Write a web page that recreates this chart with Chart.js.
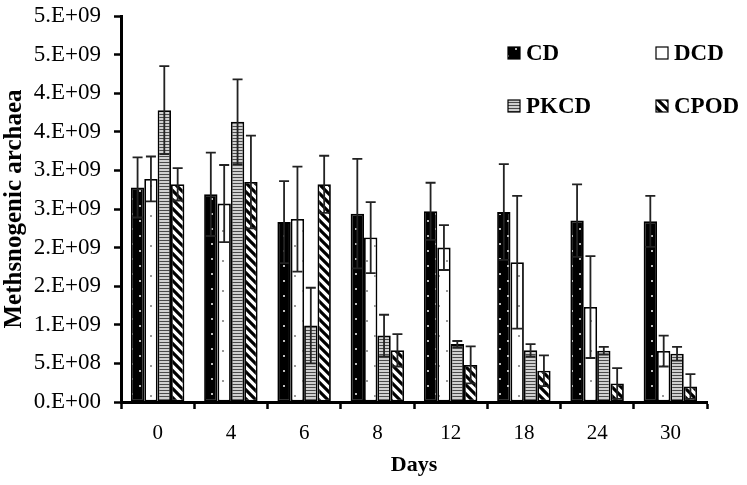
<!DOCTYPE html>
<html>
<head>
<meta charset="utf-8">
<script src="https://cdn.jsdelivr.net/npm/chart.js@4"></script>
<style>
  html, body { margin: 0; padding: 0; background: #fff; }
  #wrap { width: 747px; height: 485px; }
</style>
</head>
<body>
<div id="wrap"><canvas id="archaeaChart"></canvas></div>
<script>
// Methanogenic archaea per treatment over days
const days = ['0', '4', '6', '8', '12', '18', '24', '30'];
const seriesNames = ['CD', 'DCD', 'PKCD', 'CPOD'];

const cdValues   = [2.78e9, 2.69e9, 2.33e9, 2.44e9, 2.47e9, 2.46e9, 2.35e9, 2.34e9];
const cdErrors   = [0.39e9, 0.54e9, 0.53e9, 0.71e9, 0.37e9, 0.62e9, 0.47e9, 0.33e9];
const dcdValues  = [2.89e9, 2.57e9, 2.37e9, 2.13e9, 2.00e9, 1.81e9, 1.23e9, 0.66e9];
const dcdErrors  = [0.29e9, 0.50e9, 0.68e9, 0.46e9, 0.29e9, 0.86e9, 0.66e9, 0.20e9];
const pkcdValues = [3.78e9, 3.63e9, 0.99e9, 0.86e9, 0.75e9, 0.67e9, 0.665e9, 0.625e9];
const pkcdErrors = [0.57e9, 0.55e9, 0.49e9, 0.27e9, 0.04e9, 0.08e9, 0.05e9, 0.09e9];
const cpodValues = [2.82e9, 2.85e9, 2.82e9, 0.67e9, 0.48e9, 0.405e9, 0.24e9, 0.20e9];
const cpodErrors = [0.21e9, 0.60e9, 0.37e9, 0.21e9, 0.24e9, 0.20e9, 0.20e9, 0.16e9];

// Excel-style rounded scientific labels, bottom to top
const yTickLabels = ['0.E+00', '5.E+08', '1.E+09', '2.E+09', '2.E+09', '3.E+09',
                     '3.E+09', '4.E+09', '4.E+09', '5.E+09', '5.E+09'];

const FONT = "'Liberation Serif', 'Times New Roman', serif";

// --- fill patterns ---
function makePattern(w, h, paint) {
    const c = document.createElement('canvas');
    c.width = w; c.height = h;
    const g = c.getContext('2d');
    paint(g, w, h);
    return g.createPattern(c, 'repeat');
}

const dotsOnBlack = makePattern(16, 15, (g, w, h) => {
    g.fillStyle = '#000'; g.fillRect(0, 0, w, h);
    g.fillStyle = '#bbb';
    g.fillRect(3, 3, 2, 2);
    g.fillRect(11, 10, 2, 2);
});
const dotsOnWhite = makePattern(16, 30, (g, w, h) => {
    g.fillStyle = '#fff'; g.fillRect(0, 0, w, h);
    g.fillStyle = '#999';
    g.fillRect(6, 5, 2, 2);
    g.fillRect(14, 20, 2, 2);
});
const hStripes = makePattern(4, 3, (g, w, h) => {
    g.fillStyle = '#d0d0d0'; g.fillRect(0, 0, w, h);
    g.fillStyle = '#4a4a4a'; g.fillRect(0, 0, w, 1);
});
const diagStripes = makePattern(9, 9, (g, w, h) => {
    g.fillStyle = '#fff'; g.fillRect(0, 0, w, h);
    g.strokeStyle = '#000'; g.lineWidth = 3.2;
    g.beginPath();
    g.moveTo(-2, -2); g.lineTo(w + 2, h + 2);
    g.moveTo(-2, h - 2); g.lineTo(2, h + 2);
    g.moveTo(w - 2, -2); g.lineTo(w + 2, 2);
    g.stroke();
});

const fills = [dotsOnBlack, dotsOnWhite, hStripes, diagStripes];
const values = [cdValues, dcdValues, pkcdValues, cpodValues];
const errors = [cdErrors, dcdErrors, pkcdErrors, cpodErrors];

// error bars drawn on top of the bars
const errorBarPlugin = {
    id: 'errorBars',
    afterDatasetsDraw(chart) {
        const ctx = chart.ctx;
        const yScale = chart.scales.y;
        ctx.save();
        ctx.strokeStyle = '#222';
        ctx.lineWidth = 1.8;
        chart.data.datasets.forEach((ds, i) => {
            const meta = chart.getDatasetMeta(i);
            meta.data.forEach((bar, j) => {
                const v = ds.data[j];
                const e = ds.errors[j];
                const yTop = yScale.getPixelForValue(v + e);
                const yBot = yScale.getPixelForValue(Math.max(0, v - e));
                const cap = 5;
                ctx.beginPath();
                ctx.moveTo(bar.x, yTop); ctx.lineTo(bar.x, yBot);
                ctx.moveTo(bar.x - cap, yTop); ctx.lineTo(bar.x + cap, yTop);
                ctx.moveTo(bar.x - cap, yBot); ctx.lineTo(bar.x + cap, yBot);
                ctx.stroke();
            });
        });
        ctx.restore();
    }
};

// 2x2 legend inside the plot, top right
const gridLegendPlugin = {
    id: 'gridLegend',
    afterDraw(chart) {
        const ctx = chart.ctx;
        const area = chart.chartArea;
        const cols = [387, 535];
        const rows = [37, 90];
        ctx.save();
        ctx.font = 'bold 23px ' + FONT;
        ctx.textBaseline = 'middle';
        chart.data.datasets.forEach((ds, i) => {
            const x = area.left + cols[i % 2];
            const y = area.top + rows[Math.floor(i / 2)];
            ctx.fillStyle = ds.backgroundColor;
            ctx.fillRect(x, y - 6, 12, 12);
            ctx.strokeStyle = '#000';
            ctx.lineWidth = 1.2;
            ctx.strokeRect(x, y - 6, 12, 12);
            ctx.fillStyle = '#000';
            ctx.fillText(ds.label, x + 18, y + 1);
        });
        ctx.restore();
    }
};

const ctx = document.getElementById('archaeaChart');

new Chart(ctx, {
    type: 'bar',
    data: {
        labels: days,
        datasets: seriesNames.map((name, i) => ({
            label: name,
            data: values[i],
            errors: errors[i],
            backgroundColor: fills[i],
            borderColor: '#000',
            borderWidth: 1.8,
            borderSkipped: false,
            categoryPercentage: 0.73,
            barPercentage: 1.0
        }))
    },
    options: {
        responsive: true,
        maintainAspectRatio: false,
        animation: false,
        layout: {
            padding: { top: 16, right: 40, bottom: 0, left: 0 }
        },
        plugins: {
            legend: { display: false },
            tooltip: { enabled: false }
        },
        scales: {
            x: {
                grid: {
                    offset: true,
                    drawOnChartArea: false,
                    drawTicks: true,
                    tickLength: 7,
                    tickWidth: 2.5,
                    tickColor: '#000'
                },
                border: { color: '#000', width: 3 },
                ticks: {
                    color: '#000',
                    padding: 12,
                    font: { family: FONT, size: 21 }
                },
                title: {
                    display: true,
                    text: 'Days',
                    color: '#000',
                    padding: { top: 0, bottom: 6 },
                    font: { family: FONT, size: 22, weight: 'bold' }
                },
                afterFit: function(scale) {
                    scale.height = 83;
                    scale.paddingLeft = 0;
                    scale.paddingRight = 0;
                }
            },
            y: {
                min: 0,
                max: 5e9,
                grid: {
                    drawOnChartArea: false,
                    drawTicks: true,
                    tickLength: 7,
                    tickWidth: 2.5,
                    tickColor: '#000'
                },
                border: { color: '#000', width: 3 },
                ticks: {
                    stepSize: 5e8,
                    color: '#000',
                    padding: 13,
                    font: { family: FONT, size: 23 },
                    callback: function(value, index) {
                        return yTickLabels[index];
                    }
                },
                title: {
                    display: true,
                    text: 'Methsnogenic archaea',
                    color: '#000',
                    padding: { top: 0, bottom: 4 },
                    font: { family: FONT, size: 25, weight: 'bold' }
                },
                afterFit: function(scale) {
                    scale.width = 121;
                    scale.paddingTop = 0;
                    scale.paddingBottom = 0;
                }
            }
        }
    },
    plugins: [errorBarPlugin, gridLegendPlugin]
});
</script>
</body>
</html>
